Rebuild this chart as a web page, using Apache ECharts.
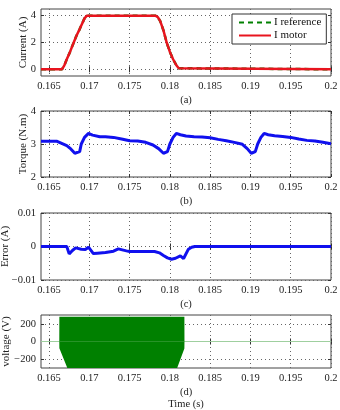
<!DOCTYPE html>
<html>
<head>
<meta charset="utf-8">
<script src="https://cdn.jsdelivr.net/npm/echarts@6/dist/echarts.min.js"></script>
<style>
html, body { margin: 0; padding: 0; background: #fff; }
#main { width: 340px; height: 410px; }
</style>
</head>
<body>
<div id="main"></div>
<script>
// tick positions on the time axis (all panels)
const timeTicks = [0.165, 0.17, 0.175, 0.18, 0.185, 0.19, 0.195, 0.2]

// (a) motor current, A  (reference sits exactly under it)
const curT = [0.164, 0.1666, 0.1669, 0.1672, 0.1676, 0.168, 0.1684, 0.1688, 0.1691, 0.1694, 0.1697,
  0.1782, 0.1785, 0.1788, 0.1792, 0.1796, 0.18, 0.1804, 0.1808, 0.1811, 0.1813, 0.2]
const curA = [0, 0, 0.3, 0.75, 1.3, 1.9, 2.5, 3.0, 3.4, 3.8, 4,
  4, 3.9, 3.6, 2.9, 2.0, 1.3, 0.75, 0.3, 0.08, 0, 0]

// (b) torque, N.m
const torT = [0.164, 0.166, 0.1672, 0.1677, 0.1682, 0.1688, 0.169, 0.1694, 0.1699, 0.1704, 0.1713, 0.172, 0.173, 0.174, 0.175, 0.176, 0.177, 0.1779,
  0.1786, 0.1792, 0.1797, 0.18, 0.1804, 0.1808, 0.1813, 0.182, 0.183, 0.184, 0.185, 0.186, 0.187, 0.188, 0.189,
  0.1896, 0.1901, 0.1906, 0.1909, 0.1913, 0.1917, 0.1922, 0.193, 0.194, 0.195, 0.196, 0.197, 0.198, 0.199, 0.2]
const torV = [3.08, 3.08, 2.95, 2.85, 2.72, 2.77, 3.0, 3.2, 3.32, 3.27, 3.22, 3.22, 3.2, 3.15, 3.1, 3.09, 3.05, 2.97,
  2.86, 2.72, 2.77, 3.0, 3.2, 3.32, 3.28, 3.24, 3.22, 3.21, 3.19, 3.14, 3.1, 3.05, 2.99,
  2.86, 2.72, 2.77, 3.0, 3.2, 3.32, 3.28, 3.25, 3.23, 3.2, 3.15, 3.11, 3.09, 3.05, 3.01]

// (c) current error, A
const errT = [0.164, 0.1672, 0.1675, 0.1679, 0.1683, 0.169, 0.1695, 0.1699, 0.1705, 0.171, 0.172, 0.173, 0.1736, 0.1746, 0.175, 0.176, 0.177, 0.1781,
  0.1787, 0.1792, 0.1797, 0.1802, 0.1807, 0.1813, 0.1817, 0.1823, 0.1827, 0.1831, 0.2]
const errV = [0, 0, -0.0022, -0.0012, -0.0004, -0.0008, -0.0009, -0.0002, -0.0021, -0.002, -0.0018, -0.0014, -0.0007, -0.0013, -0.0015, -0.0015, -0.0015, -0.0015,
  -0.0019, -0.0027, -0.0034, -0.0038, -0.0035, -0.0028, -0.0036, -0.0008, -0.0002, 0, 0]

// (d) PWM voltage envelope, V
const voltT = [0.164, 0.16627, 0.16628, 0.16727, 0.1809, 0.1818, 0.18181, 0.2]
const voltHigh = [0, 0, 280, 280, 280, 280, 0, 0]
const voltLow = [0, 0, -75, -300, -300, -80, 0, 0]

const pairs = (xs, ys) => xs.map((x, i) => [x, ys[i]])

const serif = '"Liberation Serif", "DejaVu Serif", serif'
const minus = v => String(v).replace('-', '\u2212')

var myChart = echarts.init(document.getElementById('main'))

const gridBox = [
  {top: 9, height: 67},
  {top: 111, height: 66},
  {top: 213, height: 67},
  {top: 315, height: 53}
]

const xNames = ['(a)', '(b)', '(c)', '(d)\nTime (s)']
const yCfg = [
  {name: 'Current (A)', min: -0.5, max: 4.5, ticks: [0, 2, 4], gap: 12},
  {name: 'Torque (N.m)', min: 2, max: 4, ticks: [2, 3, 4], gap: 12},
  {name: 'Error (A)', min: -0.01, max: 0.01, ticks: [-0.01, 0, 0.01], gap: 30},
  {name: 'voltage (V)', min: -300, max: 300, ticks: [-200, 0, 200], gap: 29}
]

const tickStyle = {color: '#333', width: 1}
const gridLine = {show: true, lineStyle: {type: [1, 3], color: '#666', width: 1}}

let xAxes = []
let yAxes = []
gridBox.forEach((g, i) => {
  xAxes.push({
    type: 'value', gridIndex: i, position: 'bottom', min: 0.164, max: 0.2,
    axisLine: {show: false},
    axisTick: {inside: true, length: 3, lineStyle: tickStyle, customValues: timeTicks},
    axisLabel: {customValues: timeTicks, fontFamily: serif, fontSize: 10.5, color: '#222', margin: 5, formatter: minus},
    splitLine: gridLine,
    name: xNames[i], nameLocation: 'middle', nameGap: 18, nameMoveOverlap: false,
    nameTextStyle: {fontFamily: serif, fontSize: 10.5, color: '#222', lineHeight: 12, verticalAlign: 'top'}
  })
  yAxes.push({
    type: 'value', gridIndex: i, position: 'left', min: yCfg[i].min, max: yCfg[i].max,
    axisLine: {show: false},
    axisTick: {inside: true, length: 3, lineStyle: tickStyle, customValues: yCfg[i].ticks},
    axisLabel: {customValues: yCfg[i].ticks, fontFamily: serif, fontSize: 10.5, color: '#222', margin: 5, formatter: minus},
    splitLine: gridLine,
    name: yCfg[i].name, nameLocation: 'middle', nameGap: yCfg[i].gap, nameRotate: 90, nameMoveOverlap: false,
    nameTextStyle: {fontFamily: serif, fontSize: 11, color: '#222'}
  })
})
// mirrored ticks on top / right, like a boxed matlab axes
gridBox.forEach((g, i) => {
  xAxes.push({
    type: 'value', gridIndex: i, position: 'top', min: 0.164, max: 0.2,
    axisLine: {show: false}, axisLabel: {show: false}, splitLine: {show: false},
    axisTick: {inside: true, length: 3, lineStyle: tickStyle, customValues: timeTicks}
  })
  yAxes.push({
    type: 'value', gridIndex: i, position: 'right', min: yCfg[i].min, max: yCfg[i].max,
    axisLine: {show: false}, axisLabel: {show: false}, splitLine: {show: false},
    axisTick: {inside: true, length: 3, lineStyle: tickStyle, customValues: yCfg[i].ticks}
  })
})

myChart.setOption({
  animation: false,
  backgroundColor: '#fff',
  grid: gridBox.map(g => ({
    left: 41, width: 290, top: g.top, height: g.height, outerBoundsMode: 'none',
    show: true, borderColor: '#444', borderWidth: 1, backgroundColor: 'transparent'
  })),
  legend: {
    data: ['I reference', 'I motor'],
    orient: 'vertical', left: 232, top: 14,
    backgroundColor: '#fff', borderColor: '#333', borderWidth: 1,
    padding: [3, 5, 3, 6], itemGap: 2, itemWidth: 32, itemHeight: 11,
    itemStyle: {opacity: 0},
    textStyle: {fontFamily: serif, fontSize: 11, color: '#111', padding: [0, 0, 0, -2]}
  },
  xAxis: xAxes,
  yAxis: yAxes,
  series: [
    {
      name: 'I reference', type: 'line', xAxisIndex: 0, yAxisIndex: 0, symbol: 'none',
      data: pairs(curT, curA),
      lineStyle: {color: '#008000', width: 2.5, type: [5, 4]}, itemStyle: {color: '#008000'}
    },
    {
      name: 'I motor', type: 'line', xAxisIndex: 0, yAxisIndex: 0, symbol: 'none',
      data: pairs(curT, curA),
      lineStyle: {color: '#e8141e', width: 2.5}, itemStyle: {color: '#e8141e'}
    },
    {
      name: 'Torque', type: 'line', xAxisIndex: 1, yAxisIndex: 1, symbol: 'none',
      data: pairs(torT, torV),
      lineStyle: {color: '#1010ee', width: 3}
    },
    {
      name: 'Error', type: 'line', xAxisIndex: 2, yAxisIndex: 2, symbol: 'none',
      data: pairs(errT, errV),
      lineStyle: {color: '#1010ee', width: 3}
    },
    {
      name: 'zero', type: 'line', xAxisIndex: 3, yAxisIndex: 3, symbol: 'none', z: 1,
      data: pairs([0.164, 0.2], [0, 0]),
      lineStyle: {color: '#9fcf9f', width: 1}
    },
    {
      name: 'V high', type: 'line', xAxisIndex: 3, yAxisIndex: 3, symbol: 'none', z: 3,
      data: pairs(voltT, voltHigh),
      lineStyle: {width: 0}, areaStyle: {color: '#008000', opacity: 1}
    },
    {
      name: 'V low', type: 'line', xAxisIndex: 3, yAxisIndex: 3, symbol: 'none', z: 3,
      data: pairs(voltT, voltLow),
      lineStyle: {width: 0}, areaStyle: {color: '#008000', opacity: 1}
    }
  ]
})
</script>
</body>
</html>
